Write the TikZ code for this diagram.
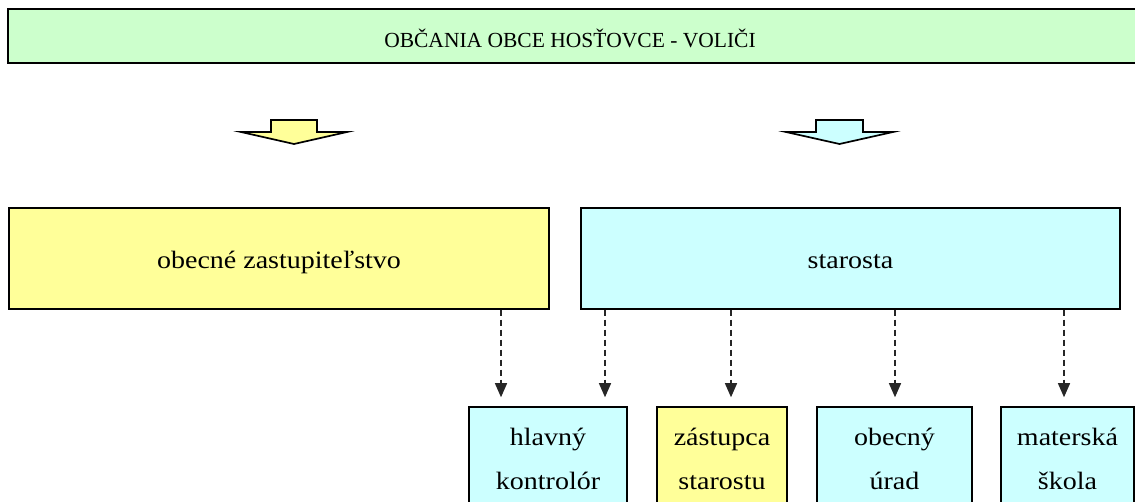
\documentclass[tikz,border=0pt]{standalone}
\usepackage{fontspec}
\setmainfont{Liberation Serif}[FakeStretch=1.12]
\newfontfamily\titlefont{Liberation Serif}
\usetikzlibrary{arrows.meta}
\definecolor{tgreen}{HTML}{CCFFCC}
\definecolor{tyellow}{HTML}{FFFF99}
\definecolor{tcyan}{HTML}{CCFFFF}
\tikzset{
  box/.style={draw=black, line width=1.5pt, inner sep=0pt, rectangle},
  bigbox/.style={box, minimum height=101pt, text height=21pt, text depth=0pt,
    font=\fontsize{25}{30}\selectfont},
  smallbox/.style={box, minimum height=103pt, align=center,
    font=\fontsize{25}{44}\selectfont},
  dasharrow/.style={draw=black!85, line width=1.2pt, dash pattern=on 6pt off 4pt,
    -{Triangle[width=12pt,length=14pt]}, shorten >=9pt},
  blockarrow/.style={draw=black, line width=1.7pt, line join=miter}
}
\begin{document}
\begin{tikzpicture}[x=1pt,y=-1pt]
\clip (0,0) rectangle (1135,502);
% title
\node[box, fill=tgreen, minimum width=1136pt, minimum height=54pt,
  text height=24pt, text depth=0pt, font=\titlefont\fontsize{21.5}{26}\selectfont]
  (title) at (576,36) {\hspace*{-12pt}OBČANIA OBCE HOSŤOVCE - VOLIČI};
% block arrows
\path[blockarrow, fill=tyellow] (271,120) -- (317,120) -- (317,132) -- (347,132)
  -- (294,144) -- (241,132) -- (271,132) -- cycle;
\path[blockarrow, fill=tcyan] (816,120) -- (863,120) -- (863,132) -- (893,132)
  -- (839.5,144) -- (786,132) -- (816,132) -- cycle;
% main boxes
\node[bigbox, fill=tyellow, minimum width=540pt] (zast) at (279,258.5) {obecné zastupiteľstvo};
\node[bigbox, fill=tcyan, minimum width=539pt] (star) at (850.5,258.5) {starosta};
% small boxes
\node[smallbox, fill=tcyan, minimum width=158pt] (hk) at (548,458.5) {hlavný\\kontrolór};
\node[smallbox, fill=tyellow, minimum width=130pt] (zs) at (722,458.5) {zástupca\\starostu};
\node[smallbox, fill=tcyan, minimum width=155pt] (ou) at (894.5,458.5) {obecný\\úrad};
\node[smallbox, fill=tcyan, minimum width=133pt] (ms) at (1067.5,458.5) {materská\\škola};
% connectors
\draw[dasharrow] (zast.south -| 501,0) -- (hk.north -| 501,0);
\draw[dasharrow] (star.south -| 605,0) -- (hk.north -| 605,0);
\draw[dasharrow] (star.south -| 731,0) -- (zs.north -| 731,0);
\draw[dasharrow] (star.south -| 895,0) -- (ou.north -| 895,0);
\draw[dasharrow] (star.south -| 1064,0) -- (ms.north -| 1064,0);
\end{tikzpicture}
\end{document}
